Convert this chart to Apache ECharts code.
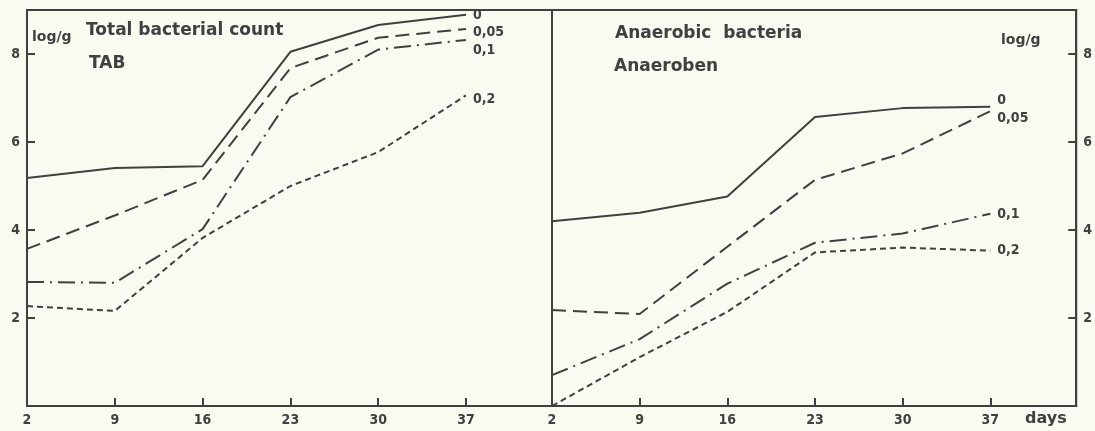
<!DOCTYPE html>
<html>
<head>
<meta charset="utf-8">
<script src="https://cdn.jsdelivr.net/npm/echarts@6/dist/echarts.min.js"></script>
<style>
html,body{margin:0;padding:0;background:#fafaf1;}
#c{width:1095px;height:431px;}
</style>
</head>
<body>
<div id="c"></div>
<script>
const days = [2, 9, 16, 23, 30, 37];
const dayTicks = [2, 9, 16, 23, 30, 37];
const yTicks = [2, 4, 6, 8];
const concLabels = ['0', '0,05', '0,1', '0,2'];

// Total bacterial count (TAB), log/g
const tab0   = [5.18, 5.41, 5.45, 8.05, 8.66, 8.89];
const tab005 = [3.57, 4.33, 5.14, 7.68, 8.37, 8.57];
const tab01  = [2.82, 2.80, 4.02, 7.02, 8.10, 8.32];
const tab02  = [2.27, 2.16, 3.82, 5.00, 5.77, 7.06];

// Anaerobic bacteria (Anaeroben), log/g
const ana0   = [4.20, 4.39, 4.76, 6.57, 6.77, 6.80];
const ana005 = [2.18, 2.09, 3.62, 5.14, 5.74, 6.70];
const ana01  = [0.70, 1.52, 2.78, 3.71, 3.92, 4.37];
const ana02  = [0.00, 1.11, 2.14, 3.49, 3.60, 3.53];

const INK = '#404040';
const FONT_C = "'DejaVu Sans Condensed','DejaVu Sans',sans-serif";
const FONT = "'DejaVu Sans',sans-serif";
const styles = [
  {type: 'solid'},
  {type: [14, 7]},
  {type: [17, 6, 2, 6]},
  {type: [6, 4]}
];

function pair(arr) { return days.map((d, i) => [d, arr[i]]); }

function mk(name, arr, idx, styleIdx, offset) {
  return {
    type: 'line', name: name, xAxisIndex: idx, yAxisIndex: idx,
    data: pair(arr), symbol: 'none', silent: true,
    lineStyle: Object.assign({color: INK, width: 2}, styles[styleIdx]),
    endLabel: {
      show: true, formatter: name, distance: 7, offset: offset,
      color: INK, fontFamily: FONT_C, fontWeight: 'bold', fontSize: 14
    }
  };
}

function xAx(idx) {
  return {
    type: 'value', gridIndex: idx, min: 2, max: 43.86,
    axisLine: {show: true, lineStyle: {color: INK, width: 2}},
    axisTick: {show: true, inside: true, length: 8, customValues: dayTicks, lineStyle: {color: INK, width: 2}},
    axisLabel: {show: true, customValues: dayTicks, margin: 7, color: INK, fontFamily: FONT_C, fontWeight: 'bold', fontSize: 14},
    splitLine: {show: false}
  };
}
function yAx(idx, pos) {
  return {
    type: 'value', gridIndex: idx, min: 0, max: 9, position: pos,
    axisLine: {show: true, onZero: false, lineStyle: {color: INK, width: 2}},
    axisTick: {show: true, inside: true, length: 8, customValues: yTicks, lineStyle: {color: INK, width: 2}},
    axisLabel: {show: true, customValues: yTicks, margin: 7, color: INK, fontFamily: FONT_C, fontWeight: 'bold', fontSize: 14},
    splitLine: {show: false}
  };
}

const tStyle = (size) => ({color: INK, fontFamily: FONT, fontWeight: 'bold', fontSize: size});

const option = {
  backgroundColor: '#fafaf1',
  animation: false,
  title: [
    {text: 'Total bacterial count', left: 86, top: 22, textStyle: tStyle(17), padding: 0},
    {text: 'TAB', left: 89, top: 55, textStyle: tStyle(17), padding: 0},
    {text: 'log/g', left: 32, top: 30, textStyle: tStyle(14), padding: 0},
    {text: 'Anaerobic  bacteria', left: 615, top: 25, textStyle: tStyle(17), padding: 0},
    {text: 'Anaeroben', left: 614, top: 58, textStyle: tStyle(17), padding: 0},
    {text: 'log/g', left: 1001, top: 33, textStyle: tStyle(14), padding: 0},
    {text: 'days', left: 1025, top: 411, textStyle: tStyle(16), padding: 0}
  ],
  grid: [
    {left: 27, right: 543, top: 10, bottom: 25, show: true, borderColor: INK, borderWidth: 2, backgroundColor: 'transparent'},
    {left: 552, right: 17, top: 10, bottom: 25, show: true, borderColor: INK, borderWidth: 2, backgroundColor: 'transparent'}
  ],
  xAxis: [xAx(0), xAx(1)],
  yAxis: [yAx(0, 'left'), yAx(1, 'right')],
  series: [
    mk(concLabels[0], tab0, 0, 0, [0, 1]),
    mk(concLabels[1], tab005, 0, 1, [0, 3]),
    mk(concLabels[2], tab01, 0, 2, [0, 10]),
    mk(concLabels[3], tab02, 0, 3, [0, 4]),
    mk(concLabels[0], ana0, 1, 0, [0, -6]),
    mk(concLabels[1], ana005, 1, 1, [0, 7]),
    mk(concLabels[2], ana01, 1, 2, [0, 1]),
    mk(concLabels[3], ana02, 1, 3, [0, 0])
  ]
};

const chart = echarts.init(document.getElementById('c'), null, {renderer: 'canvas'});
chart.setOption(option);
</script>
</body>
</html>
